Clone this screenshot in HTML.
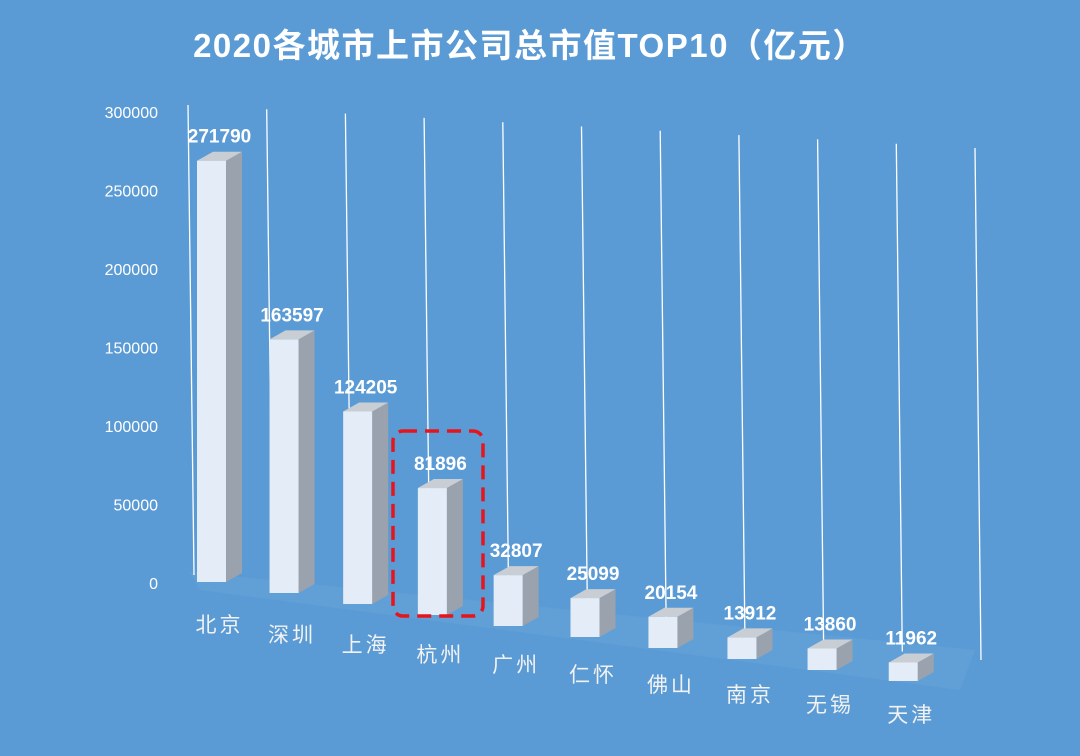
<!DOCTYPE html>
<html><head><meta charset="utf-8"><style>
html,body{margin:0;padding:0;background:#5b9bd5;}
svg{display:block;font-family:"Liberation Sans","Noto Sans CJK SC",sans-serif;}
</style></head><body>
<svg id="chart" width="1080" height="756" viewBox="0 0 1080 756" xmlns="http://www.w3.org/2000/svg">
<rect x="0" y="0" width="1080" height="756" fill="#5b9bd5"/>
<text x="530" y="57" text-anchor="middle" font-size="33" font-weight="bold" letter-spacing="1.5" fill="#ffffff">2020各城市上市公司总市值TOP10（亿元）</text>
<g id="grid"></g><g id="yaxis"></g><g id="bars"></g><g id="labels"></g>
<rect x="393" y="431" width="90" height="185" rx="10" fill="none" stroke="#e8141c" stroke-width="3.5" stroke-dasharray="14,8"/>
</svg>
<script>
const categories=["北京","深圳","上海","杭州","广州","仁怀","佛山","南京","无锡","天津"];
const values=[271790,163597,124205,81896,32807,25099,20154,13912,13860,11962];
const yTicks=[0,50000,100000,150000,200000,250000,300000];
const tickLabels=["0","50000","100000","150000","200000","250000","300000"];
const NS="http://www.w3.org/2000/svg";
function mk(t,a,p){const e=document.createElementNS(NS,t);for(const k in a)e.setAttribute(k,a[k]);p.appendChild(e);return e;}
const k=0.00155;
function baseY(i){return 582+11*i;}
function barX(i){return 197+72*i+0.54*i*i;}
function yFor(v,i){return baseY(i)-v*k;}
function tickY(v){return 583-v*0.00157;}
const grid=document.getElementById('grid'),yax=document.getElementById('yaxis'),bars=document.getElementById('bars'),labels=document.getElementById('labels');
const fl=mk('polygon',{points:"190,572 975,650 960,690 200,590",fill:"#68a3da",opacity:"0.5"},grid);


for(let i=0;i<=10;i++){
  const gx=188+78.7*i, gt=105+4.3*i;
  const l=mk('line',{x1:gx,y1:gt,x2:gx+6,y2:575+8.5*i,stroke:"#ffffff","stroke-width":1.3},grid);
  
  
}
yTicks.forEach((v,j)=>{
  const t=mk('text',{x:158,y:tickY(v)+6,"text-anchor":"end","font-size":16,fill:"#ffffff"},yax);
  t.textContent=tickLabels[j];
  
  
});
values.forEach((v,i)=>{
  const x=barX(i),w=29,d=16,dy=9,b=baseY(i),top=yFor(v,i);
  const g=mk('g',{},bars);
  
  
  mk('polygon',{points:`${x+w},${top} ${x+w+d},${top-dy} ${x+w+d},${b-dy} ${x+w},${b}`,fill:"#9aa3ad"},g);
  mk('polygon',{points:`${x},${top} ${x+d},${top-dy} ${x+w+d},${top-dy} ${x+w},${top}`,fill:"#c9ced4"},g);
  mk('rect',{x:x,y:top,width:w,height:b-top,fill:"#e4ecf7"},g);
  const vl=mk('text',{x:x+w/2+8,y:top-18,"text-anchor":"middle","font-size":19,"font-weight":"bold",fill:"#ffffff"},labels);
  vl.textContent=values[i];
  
  
  const cl=mk('text',{x:x+w/2+8,y:b+50-i,"text-anchor":"middle","font-size":21,fill:"#f2f2f2","letter-spacing":"3"},labels);
  cl.textContent=categories[i];
  
  
});
</script>
</body></html>
